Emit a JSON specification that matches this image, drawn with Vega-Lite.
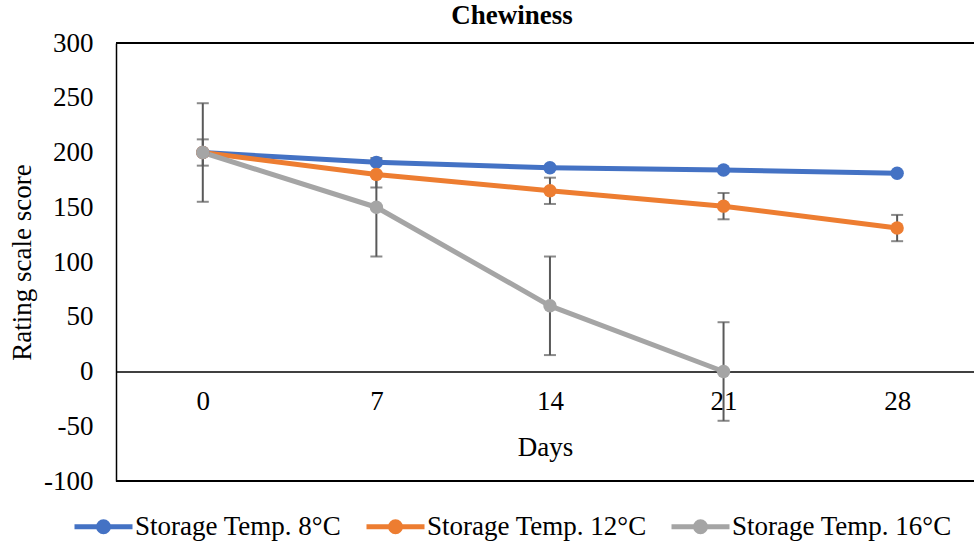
{
  "$schema": "https://vega.github.io/schema/vega-lite/v6.json",
  "width": 858,
  "height": 438,
  "autosize": {"type": "none"},
  "padding": {"left": 116, "top": 43, "right": 0, "bottom": 63},
  "background": "white",
  "title": {"text": "Chewiness", "font": "Liberation Serif", "fontSize": 27, "fontWeight": "bold", "color": "#000000", "anchor": "middle", "frame": "group", "dx": -33, "offset": -1},
  "config": {"view": {"stroke": null}, "font": "Liberation Serif"},
  "data": {
    "values": [
      {"day": 0, "series": "Storage Temp. 8°C", "value": 200},
      {"day": 7, "series": "Storage Temp. 8°C", "value": 191},
      {"day": 14, "series": "Storage Temp. 8°C", "value": 186},
      {"day": 21, "series": "Storage Temp. 8°C", "value": 184},
      {"day": 28, "series": "Storage Temp. 8°C", "value": 181},
      {"day": 0, "series": "Storage Temp. 12°C", "value": 200, "lo": 188, "hi": 212},
      {"day": 7, "series": "Storage Temp. 12°C", "value": 180, "lo": 168, "hi": 192},
      {"day": 14, "series": "Storage Temp. 12°C", "value": 165, "lo": 153, "hi": 177},
      {"day": 21, "series": "Storage Temp. 12°C", "value": 151, "lo": 139, "hi": 163},
      {"day": 28, "series": "Storage Temp. 12°C", "value": 131, "lo": 119, "hi": 143},
      {"day": 0, "series": "Storage Temp. 16°C", "value": 200, "lo": 155, "hi": 245},
      {"day": 7, "series": "Storage Temp. 16°C", "value": 150, "lo": 105, "hi": 195},
      {"day": 14, "series": "Storage Temp. 16°C", "value": 60, "lo": 15, "hi": 105},
      {"day": 21, "series": "Storage Temp. 16°C", "value": 0, "lo": -45, "hi": 45}
    ]
  },
  "layer": [
    {
      "mark": {"type": "rule", "color": "#000000", "strokeWidth": 1.5},
      "encoding": {"y": {"datum": 300, "type": "quantitative", "title": "Rating scale score"}}
    },
    {
      "mark": {"type": "rule", "color": "#000000", "strokeWidth": 1.5},
      "encoding": {"y": {"datum": -100, "type": "quantitative", "title": "Rating scale score"}}
    },
    {
      "transform": [{"filter": "datum.lo != null"}],
      "mark": {"type": "errorbar", "ticks": true, "size": 12, "thickness": 2, "color": "#595959"},
      "encoding": {
        "x": {"field": "day", "type": "quantitative", "title": "Days"},
        "y": {"field": "lo", "type": "quantitative", "title": "Rating scale score"},
        "y2": {"field": "hi"}
      }
    },
    {
      "mark": {"type": "line", "strokeWidth": 5, "strokeCap": "round", "strokeJoin": "round"},
      "encoding": {
        "x": {
          "field": "day", "type": "quantitative", "title": "Days",
          "scale": {"domain": [-3.5, 31.1], "nice": false, "zero": false},
          "axis": {
            "orient": "bottom", "offset": -109.5, "values": [0, 7, 14, 21, 28], "grid": false, "ticks": false,
            "domain": true, "domainColor": "#000000", "domainWidth": 1.5,
            "labelFont": "Liberation Serif", "labelFontSize": 27, "labelColor": "#000000", "labelPadding": 17, "labelFlush": false,
            "titleFont": "Liberation Serif", "titleFontSize": 27, "titleFontWeight": "normal", "titleColor": "#000000", "titlePadding": 20
          }
        },
        "y": {
          "field": "value", "type": "quantitative", "title": "Rating scale score",
          "scale": {"domain": [-100, 300], "nice": false, "zero": false},
          "axis": {
            "values": [-100, -50, 0, 50, 100, 150, 200, 250, 300], "grid": false, "ticks": false,
            "labelExpr": "'' + datum.value",
            "domain": true, "domainColor": "#000000", "domainWidth": 1.5,
            "labelFont": "Liberation Serif", "labelFontSize": 27, "labelColor": "#000000", "labelPadding": 23, "labelFlush": false, "labelOverlap": false,
            "titleFont": "Liberation Serif", "titleFontSize": 27, "titleFontWeight": "normal", "titleColor": "#000000", "titlePadding": 7
          }
        },
        "color": {
          "field": "series", "type": "nominal",
          "scale": {"domain": ["Storage Temp. 8°C", "Storage Temp. 12°C", "Storage Temp. 16°C"], "range": ["#4472C4", "#ED7D31", "#A5A5A5"]},
          "legend": {
            "orient": "none", "legendX": -44, "legendY": 452, "direction": "horizontal", "title": null,
            "symbolType": "M-1,0L1,0M-0.17,0A0.17,0.17,0,1,1,0.17,0A0.17,0.17,0,1,1,-0.17,0Z",
            "symbolSize": 3364, "symbolStrokeWidth": 5,
            "labelFont": "Liberation Serif", "labelFontSize": 27, "labelColor": "#000000", "labelOffset": 0, "labelLimit": 400,
            "columnPadding": 14, "padding": 0,
            "encode": {"symbols": {"update": {"fill": {"scale": "color", "field": "value"}, "stroke": {"scale": "color", "field": "value"}, "opacity": {"value": 1}}}}
          }
        }
      }
    },
    {
      "mark": {"type": "point", "filled": true, "size": 180, "opacity": 1},
      "encoding": {
        "x": {"field": "day", "type": "quantitative", "title": "Days"},
        "y": {"field": "value", "type": "quantitative", "title": "Rating scale score"},
        "color": {
          "field": "series", "type": "nominal",
          "scale": {"domain": ["Storage Temp. 8°C", "Storage Temp. 12°C", "Storage Temp. 16°C"], "range": ["#4472C4", "#ED7D31", "#A5A5A5"]}
        }
      }
    }
  ]
}
